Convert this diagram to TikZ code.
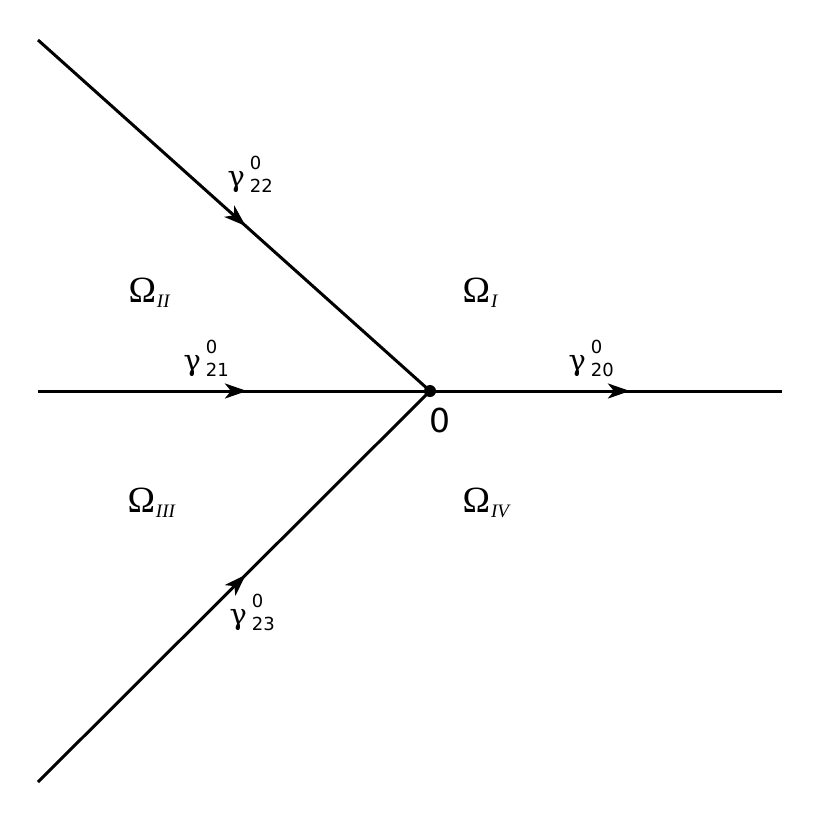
\documentclass[tikz,border=0pt]{standalone}
\usepackage{fontspec}
\setmainfont{Liberation Serif}
\newfontfamily\gfont{DejaVu Sans}
\newfontfamily\gsfont{DejaVu Serif}
\usetikzlibrary{arrows.meta, decorations.markings, positioning}

\newcommand{\gam}[1]{{\gsfont\fontsize{29}{29}\selectfont γ\kern5pt\gfont\fontsize{18}{18}\selectfont\rlap{\raisebox{17pt}{0}}\raisebox{-6pt}{#1}}}
\newcommand{\om}[1]{{\fontsize{37}{37}\selectfont Ω\kern1pt\raisebox{-5pt}{\fontsize{19}{19}\selectfont\itshape #1}}}

\begin{document}
\begin{tikzpicture}[x=1pt, y=-1pt, line width=3pt, dot/.style={circle, fill, inner sep=0pt, minimum size=12pt}, mid arrow/.style={postaction={decorate}, decoration={markings, mark=at position #1 with {\arrow{Stealth[length=22pt, width=15pt, inset=6pt]}}}}, lbl/.style={anchor=base west, inner sep=0pt}]
  \useasboundingbox (0,0) rectangle (822,822);

  \node[dot] (o) at (430,391) {};
  \coordinate (nw) at (38,40);
  \coordinate (w)  at (38,391);
  \coordinate (sw) at (38,782);
  \coordinate (e)  at (782,391);

  \draw[mid arrow=0.53]  (nw) -- (o.center);
  \draw[mid arrow=0.533] (w)  -- (o.center);
  \draw[mid arrow=0.53]  (sw) -- (o.center);
  \draw[mid arrow=0.568] (o.center) -- (e);

  \node[lbl] (g22) at (226,186) {\gam{22}};
  \node[lbl] (g21) at (182,370) {\gam{21}};
  \node[lbl] (g20) at (567,370) {\gam{20}};
  \node[lbl] (g23) at (228,624) {\gam{23}};
  \node[lbl] (zero) at (428,432) {\gfont\fontsize{33}{33}\selectfont 0};

  \node[lbl] (omI)   at (461,302) {\om{I}};
  \node[lbl] (omII)  at (127,302) {\om{II}};
  \node[lbl] (omIII) at (126,512) {\om{III}};
  \node[lbl] (omIV)  at (461,512) {\om{IV}};
\end{tikzpicture}
\end{document}
